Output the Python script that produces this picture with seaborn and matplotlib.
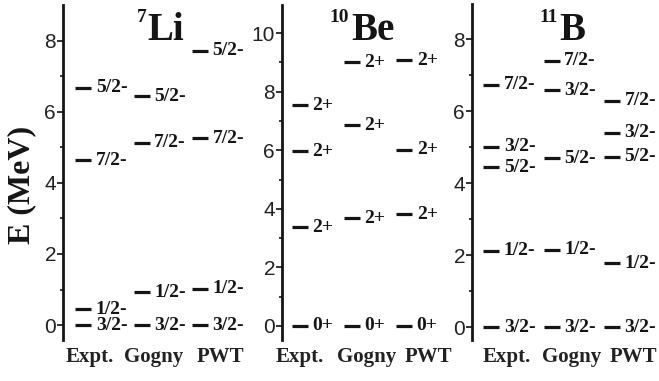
import matplotlib
matplotlib.use("Agg")
import matplotlib.pyplot as plt
import seaborn as sns
import pandas as pd

sns.set_style("ticks")
plt.rcParams['font.family'] = ['Liberation Sans', 'DejaVu Sans']

columns = ["Expt.", "Gogny", "PWT"]

# 7Li
li_col = ["Expt.", "Expt.", "Expt.", "Expt.", "Gogny", "Gogny", "Gogny", "Gogny", "PWT", "PWT", "PWT", "PWT"]
li_E = [0.0, 0.45, 4.63, 6.68, 0.0, 0.92, 5.12, 6.44, 0.0, 1.02, 5.26, 7.72]
li_J = ["3/2-", "1/2-", "7/2-", "5/2-", "3/2-", "1/2-", "7/2-", "5/2-", "3/2-", "1/2-", "7/2-", "5/2-"]

# 10Be
be_col = ["Expt.", "Expt.", "Expt.", "Expt.", "Gogny", "Gogny", "Gogny", "Gogny", "PWT", "PWT", "PWT", "PWT"]
be_E = [0.0, 3.37, 5.96, 7.54, 0.0, 3.68, 6.85, 9.0, 0.0, 3.81, 6.01, 9.08]
be_J = ["0+", "2+", "2+", "2+", "0+", "2+", "2+", "2+", "0+", "2+", "2+", "2+"]

# 11B
b_col = ["Expt."] * 5 + ["Gogny"] * 5 + ["PWT"] * 5
b_E = [0.0, 2.13, 4.45, 5.02, 6.74, 0.0, 2.16, 4.69, 6.59, 7.40, 0.0, 1.78, 4.74, 5.41, 6.30]
b_J = ["3/2-", "1/2-", "5/2-", "3/2-", "7/2-", "3/2-", "1/2-", "5/2-", "3/2-", "7/2-",
       "3/2-", "1/2-", "5/2-", "3/2-", "7/2-"]

nuclei = [
    ("7", "Li", li_col, li_E, li_J),
    ("10", "Be", be_col, be_E, be_J),
    ("11", "B", b_col, b_E, b_J),
]

W, H = 659, 381
fig = plt.figure(figsize=(W / 100, H / 100), dpi=100)

geo = [
    dict(px=(63, 250, 5, 340), xlim=(-0.35, 2.86), ylim=(-0.42, 9.0), major=[0, 2, 4, 6, 8], minor=[1, 3, 5, 7],
         title_sup=(137, 18), title_main=(147, 40), col_px=[90, 154, 220]),
    dict(px=(282, 445, 5, 340), xlim=(-0.335, 2.78), ylim=(-0.48, 10.96), major=[0, 2, 4, 6, 8, 10], minor=[1, 3, 5, 7, 9],
         title_sup=(329, 18), title_main=(351, 40), col_px=[300, 367, 428]),
    dict(px=(472, 659, 4, 340), xlim=(-0.32, 2.78), ylim=(-0.35, 8.98), major=[0, 2, 4, 6, 8], minor=[1, 3, 5, 7],
         title_sup=(539, 18), title_main=(559, 40), col_px=[507, 572, 633]),
]

serif = ['Liberation Serif', 'DejaVu Serif']
ink = "#151515"

for (sup, main, col, E, J), g in zip(nuclei, geo):
    l, r, t, b = g["px"]
    ax = fig.add_axes([l / W, 1 - b / H, (r - l) / W, (b - t) / H])
    df = pd.DataFrame({"col": col, "E": E, "J": J})
    df["x"] = df["col"].map({c: i for i, c in enumerate(columns)})
    sns.scatterplot(data=df, x="x", y="E", marker="_", s=130, linewidth=2.3,
                    color=ink, ax=ax, legend=False)
    xspan = g["xlim"][1] - g["xlim"][0]
    off = 12.5 / (r - l) * xspan
    for _, row in df.iterrows():
        ax.text(row["x"] + off, row["E"], row["J"], family=serif, fontweight="bold",
                fontsize=14, va="center", ha="left", color=ink)
    ax.set_xlim(*g["xlim"])
    ax.set_ylim(*g["ylim"])
    ax.set_yticks(g["major"])
    ax.set_yticks(g["minor"], minor=True)
    ax.tick_params(axis="y", which="major", length=4, width=1.3, labelsize=15, pad=1, colors="#222222")
    ax.tick_params(axis="y", which="minor", length=2.5, width=1.3)
    ax.set_xticks([])
    ax.set_xlabel("")
    ax.set_ylabel("")
    for s in ["top", "right", "bottom"]:
        ax.spines[s].set_visible(False)
    ax.spines["left"].set_linewidth(2.0)
    ax.spines["left"].set_color(ink)
    ax.patch.set_alpha(0)
    for cx, c in zip(g["col_px"], columns):
        fig.text(cx / W, 1 - 357 / H, c, family=serif, fontweight="bold", fontsize=15,
                 ha="center", va="center", color="#222222")
    sx, sy = g["title_sup"]
    mx, my = g["title_main"]
    fig.text(sx / W, 1 - sy / H, sup, family=serif, fontsize=14, fontweight="bold",
             ha="left", va="center", color=ink)
    fig.text(mx / W, 1 - my / H, main, family=serif, fontsize=28, fontweight="bold",
             ha="left", va="baseline", color=ink)

fig.text(22 / W, 1 - 185 / H, "E (MeV)", rotation=90, family=serif, fontweight="bold",
         fontsize=23, ha="center", va="center", color=ink)

fig.savefig("out.png", dpi=100)
